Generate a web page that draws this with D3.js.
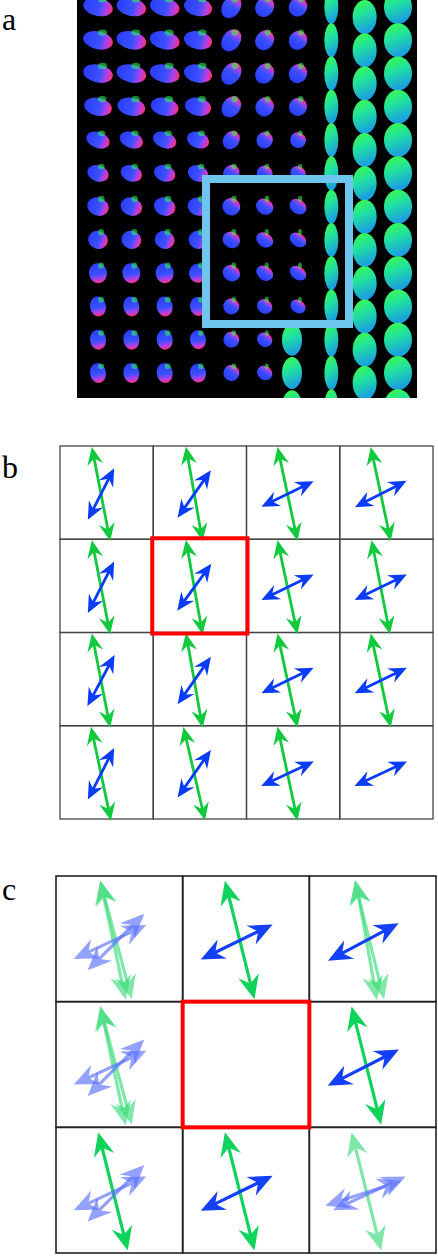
<!DOCTYPE html>
<html><head><meta charset="utf-8">
<script src="https://cdn.jsdelivr.net/npm/d3@7"></script>
<style>body{margin:0;background:#fff}svg{display:block}</style>
</head><body>
<script>
// ---- data ----
const panelLabels = ["a","b","c"];
const aRows = d3.range(12);
const aCols = d3.range(7);
const aRx = [15,15,15,14,12,11,11,10,10,10,10,10];
const aRy = [9,9,9,9,8,8,9,9,9,8,8,8];
const aColScale = [1,1,1,0.95,0.8,0.7,0.65];
const streamCols = [7,8,9];
const streamRx = [7,12,14];
const streamRows = d3.range(13);
const bGreenTilt = [[11,10,12,12],[11,10,12,11],[11,10,12,12],[12,13,12,null]];
const bBlueAngle = [[63,55,26,27],[63,54,26,26],[62,55,26,26],[63,55,25,25]];
const cGreen = [[[[12,.5],[15,.5]],[[14,1]],[[10,.5],[14,.5]]],
                [[[12,.5],[15,.5]],null,[[14,1]]],
                [[[14,1]],[[14,1]],[[14,.5]]]];
const cBlue = [[[[25,.5],[45,.5]],[[26,1]],[[28,1]]],
               [[[25,.5],[45,.5]],null,[[27,1]]],
               [[[25,.5],[45,.5]],[[26,1]],[[18,.5],[25,.5]]]];

const W=438,H=1258;
const svg=d3.select("body").append("svg").attr("width",W).attr("height",H);
const defs=svg.append("defs");
const g1=defs.append("linearGradient").attr("id","gb");
g1.append("stop").attr("offset","0").attr("stop-color","#2a3cff");
g1.append("stop").attr("offset","0.55").attr("stop-color","#3a50ff");
g1.append("stop").attr("offset","0.8").attr("stop-color","#b040e8");
g1.append("stop").attr("offset","1").attr("stop-color","#ff3070");
const g2=defs.append("linearGradient").attr("id","gs").attr("x1",0).attr("y1",0).attr("x2",0.3).attr("y2",1);
g2.append("stop").attr("offset","0").attr("stop-color","#40ff40");
g2.append("stop").attr("offset","0.5").attr("stop-color","#20e0a0");
g2.append("stop").attr("offset","1").attr("stop-color","#1aa0e0");

const labelY=[30,478,900];
svg.selectAll("text.lab").data(panelLabels).join("text")
  .attr("x",2).attr("y",(d,i)=>labelY[i])
  .attr("font-family","Liberation Serif, DejaVu Serif, serif").attr("font-size",32).text(d=>d);

// ---- panel a ----
const ax=d3.scaleLinear().domain([0,9]).range([98,398]);
const ay=d3.scaleLinear().domain([0,11]).range([7,373]);
const pa=svg.append("g");
pa.append("clipPath").attr("id","ca").append("rect").attr("x",77).attr("y",0).attr("width",340).attr("height",398);
pa.append("rect").attr("x",77).attr("y",0).attr("width",340).attr("height",398).attr("fill","#000");
const pac=pa.append("g").attr("clip-path","url(#ca)");
aRows.forEach(r=>aCols.forEach(c=>{
  if(c===6 && r>=10) return;
  const rx=aRx[r]*aColScale[c], ry=aRy[r];
  const cx=ax(c), cy=ay(r);
  const rot = r<4 ? 12 : (r>=8 ? 80 : 20);
  pac.append("ellipse").attr("cx",cx).attr("cy",cy).attr("rx",rx).attr("ry",ry)
    .attr("fill","url(#gb)").attr("transform",`rotate(${c>=4?-55:rot},${cx},${cy})`);
  pac.append("ellipse").attr("cx",cx+rx*0.3).attr("cy",cy-ry*0.85).attr("rx",rx*0.3).attr("ry",ry*0.35).attr("fill","#30ff50").attr("opacity",0.55);
}));
streamCols.forEach((c,i)=>streamRows.forEach(r=>{
  pac.append("ellipse").attr("cx",ax(c)).attr("cy",ay(r)+(i===1?10:0)).attr("rx",streamRx[i]).attr("ry",17)
    .attr("fill","url(#gs)");
}));
[10,11,12].forEach(r=>pac.append("ellipse").attr("cx",ax(6)-6).attr("cy",ay(r)).attr("rx",10).attr("ry",16).attr("fill","url(#gs)"));
pa.append("rect").attr("x",206).attr("y",179).attr("width",143).attr("height",145)
  .attr("fill","none").attr("stroke","#6ec6ee").attr("stroke-width",8);

function arrow(g,cx,cy,angDeg,len,color,op,hl,hw,sw){
  const a=angDeg*Math.PI/180, ux=Math.cos(a), uy=-Math.sin(a);
  const x1=cx-ux*len/2,y1=cy-uy*len/2,x2=cx+ux*len/2,y2=cy+uy*len/2;
  const gg=g.append("g").attr("opacity",op);
  gg.append("line").attr("x1",x1+ux*hl*0.5).attr("y1",y1+uy*hl*0.5).attr("x2",x2-ux*hl*0.5).attr("y2",y2-uy*hl*0.5)
    .attr("stroke",color).attr("stroke-width",sw);
  [[x2,y2,1],[x1,y1,-1]].forEach(([tx,ty,s])=>{
    const bx=tx-s*ux*hl, by=ty-s*uy*hl, nx=tx-s*ux*hl*0.72, ny=ty-s*uy*hl*0.72;
    const px=-uy, py=ux;
    gg.append("path").attr("d",`M${tx},${ty}L${bx+px*hw},${by+py*hw}L${nx+px*sw*0.5},${ny+py*sw*0.5}L${nx-px*sw*0.5},${ny-py*sw*0.5}L${bx-px*hw},${by-py*hw}Z`).attr("fill",color);
  });
}

// ---- panel b ----
const bx=d3.scaleLinear().domain([0,4]).range([60,433]);
const by=d3.scaleLinear().domain([0,4]).range([446,819]);
const pb=svg.append("g");
d3.range(4).forEach(r=>d3.range(4).forEach(c=>{
  pb.append("rect").attr("x",bx(c)).attr("y",by(r)).attr("width",bx(1)-bx(0)).attr("height",by(1)-by(0))
    .attr("fill","none").attr("stroke","#444").attr("stroke-width",1.3);
}));
d3.range(4).forEach(r=>d3.range(4).forEach(c=>{
  const cx=bx(c)+41, cy=by(r)+48;
  const gt=bGreenTilt[r][c];
  if(gt!==null) arrow(pb,cx,cy,90+gt,96,"#11c93c",1,18,8,2.8);
  arrow(pb,cx,cy,bBlueAngle[r][c],58,"#0a3cf5",1,18,8,2.8);
}));
pb.append("rect").attr("x",bx(1)-1).attr("y",by(1)-1).attr("width",bx(1)-bx(0)+2).attr("height",by(1)-by(0)+2)
  .attr("fill","none").attr("stroke","#ff0000").attr("stroke-width",4);

// ---- panel c ----
const cxs=d3.scaleLinear().domain([0,3]).range([56,436]);
const cys=d3.scaleLinear().domain([0,3]).range([876,1253]);
const pc=svg.append("g");
d3.range(3).forEach(r=>d3.range(3).forEach(c=>{
  pc.append("rect").attr("x",cxs(c)).attr("y",cys(r)).attr("width",cxs(1)-cxs(0)).attr("height",cys(1)-cys(0))
    .attr("fill","none").attr("stroke","#222").attr("stroke-width",1.6);
}));
d3.range(3).forEach(r=>d3.range(3).forEach(c=>{
  const cx=cxs(c)+57, cy=cys(r)+64;
  (cGreen[r][c]||[]).forEach(([t,o],k)=>arrow(pc,cx+k*3,cy,90+t,122,o<1?"#3cdc7a":"#0fd35a",o<1?0.65:1,24,10.5,3.2));
  (cBlue[r][c]||[]).forEach(([t,o],k)=>arrow(pc,cx+(k?3:-3),cy+2,t,80,o<1?"#5a70ff":"#1440f5",o<1?0.65:1,24,10.5,3.2));
}));
pc.append("rect").attr("x",cxs(1)).attr("y",cys(1)).attr("width",cxs(1)-cxs(0)).attr("height",cys(1)-cys(0))
  .attr("fill","none").attr("stroke","#ff0000").attr("stroke-width",4);
</script>
</body></html>
